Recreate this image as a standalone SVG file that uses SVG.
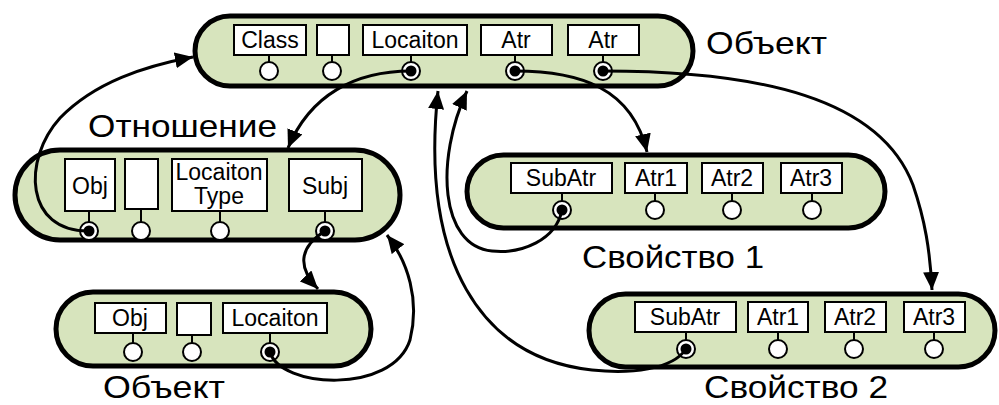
<svg xmlns="http://www.w3.org/2000/svg" width="999" height="405" viewBox="0 0 999 405">
<defs>
<style>
.pill{fill:#d7e4bd;stroke:#000;stroke-width:5}
.box{fill:#fff;stroke:#000;stroke-width:2}
.stem{stroke:#000;stroke-width:2}
.port{fill:#fff;stroke:#000;stroke-width:2}
.dot{fill:#000}
.bl{font-family:"Liberation Sans",Arial,sans-serif;font-size:23px;text-anchor:middle;fill:#000}
.big{font-family:"Liberation Sans",Arial,sans-serif;font-size:32px;fill:#000}
.conn{fill:none;stroke:#000;stroke-width:3}
</style>
<marker id="ah" markerUnits="userSpaceOnUse" markerWidth="20" markerHeight="16" refX="18" refY="8" orient="auto">
<path d="M0,0 L18,8 L0,16 Z" fill="#000"/>
</marker>
</defs>

<g id="obj-top">
<rect class="pill" x="195" y="16" width="498" height="70" rx="35"/>
<rect class="box" x="234" y="25" width="72" height="30"/>
<rect class="box" x="317" y="25" width="32" height="30"/>
<rect class="box" x="363" y="25" width="104" height="30"/>
<rect class="box" x="481" y="25" width="71" height="30"/>
<rect class="box" x="568" y="25" width="71" height="30"/>
<text class="bl" x="270" y="48">Class</text>
<text class="bl" x="415" y="48">Locaiton</text>
<text class="bl" x="516" y="48">Atr</text>
<text class="bl" x="603" y="48">Atr</text>
<line class="stem" x1="269" y1="55" x2="269" y2="62"/>
<line class="stem" x1="332" y1="55" x2="332" y2="62"/>
<line class="stem" x1="411" y1="55" x2="411" y2="62"/>
<line class="stem" x1="515" y1="55" x2="515" y2="62"/>
<line class="stem" x1="603" y1="55" x2="603" y2="62"/>
<circle class="port" cx="269" cy="71" r="9"/>
<circle class="port" cx="332" cy="71" r="9"/>
<circle class="port" cx="411" cy="71" r="9"/>
<circle class="dot" cx="411" cy="71" r="5.5"/>
<circle class="port" cx="515" cy="71" r="9"/>
<circle class="dot" cx="515" cy="71" r="5.5"/>
<circle class="port" cx="603" cy="71" r="9"/>
<circle class="dot" cx="603" cy="71" r="5.5"/>
<text class="big" x="706" y="54" textLength="121" lengthAdjust="spacingAndGlyphs">Объект</text>
</g>

<g id="relation">
<rect class="pill" x="15" y="150" width="385" height="90" rx="45"/>
<rect class="box" x="65" y="159" width="50" height="52"/>
<rect class="box" x="125" y="159" width="33" height="50"/>
<rect class="box" x="172" y="159" width="95" height="52"/>
<rect class="box" x="289" y="159" width="73" height="52"/>
<text class="bl" x="90" y="194">Obj</text>
<text class="bl" x="219" y="180">Locaiton</text>
<text class="bl" x="219" y="204">Type</text>
<text class="bl" x="325" y="194">Subj</text>
<line class="stem" x1="89" y1="211" x2="89" y2="222"/>
<line class="stem" x1="141" y1="209" x2="141" y2="222"/>
<line class="stem" x1="220" y1="211" x2="220" y2="222"/>
<line class="stem" x1="325" y1="211" x2="325" y2="222"/>
<circle class="port" cx="89" cy="231" r="9"/>
<circle class="dot" cx="89" cy="231" r="5.5"/>
<circle class="port" cx="141" cy="231" r="9"/>
<circle class="port" cx="220" cy="231" r="9"/>
<circle class="port" cx="325" cy="231" r="9"/>
<circle class="dot" cx="325" cy="231" r="5.5"/>
<text class="big" x="88" y="137" textLength="189" lengthAdjust="spacingAndGlyphs">Отношение</text>
</g>

<g id="obj-bottom">
<rect class="pill" x="56" y="292" width="315" height="74" rx="37"/>
<rect class="box" x="95" y="303" width="71" height="30"/>
<rect class="box" x="177" y="303" width="34" height="32"/>
<rect class="box" x="223" y="303" width="104" height="30"/>
<text class="bl" x="130" y="326">Obj</text>
<text class="bl" x="275" y="326">Locaiton</text>
<line class="stem" x1="133" y1="333" x2="133" y2="343"/>
<line class="stem" x1="192" y1="335" x2="192" y2="343"/>
<line class="stem" x1="270" y1="333" x2="270" y2="343"/>
<circle class="port" cx="133" cy="352" r="9"/>
<circle class="port" cx="192" cy="352" r="9"/>
<circle class="port" cx="270" cy="352" r="9"/>
<circle class="dot" cx="270" cy="352" r="5.5"/>
<text class="big" x="103" y="398" textLength="122" lengthAdjust="spacingAndGlyphs">Объект</text>
</g>

<g id="prop1">
<rect class="pill" x="467" y="155" width="418" height="73" rx="36.5"/>
<rect class="box" x="511" y="163" width="101" height="30"/>
<rect class="box" x="625" y="163" width="62" height="30"/>
<rect class="box" x="702" y="163" width="61" height="30"/>
<rect class="box" x="781" y="163" width="61" height="30"/>
<text class="bl" x="561" y="186">SubAtr</text>
<text class="bl" x="656" y="186">Atr1</text>
<text class="bl" x="732" y="186">Atr2</text>
<text class="bl" x="811" y="186">Atr3</text>
<line class="stem" x1="562" y1="193" x2="562" y2="201"/>
<line class="stem" x1="655" y1="193" x2="655" y2="201"/>
<line class="stem" x1="732" y1="193" x2="732" y2="201"/>
<line class="stem" x1="812" y1="193" x2="812" y2="201"/>
<circle class="port" cx="562" cy="210" r="9"/>
<circle class="dot" cx="562" cy="210" r="5.5"/>
<circle class="port" cx="655" cy="210" r="9"/>
<circle class="port" cx="732" cy="210" r="9"/>
<circle class="port" cx="812" cy="210" r="9"/>
<text class="big" x="582" y="268" textLength="182" lengthAdjust="spacingAndGlyphs">Свойство 1</text>
</g>

<g id="prop2">
<rect class="pill" x="589" y="294" width="406" height="73" rx="36.5"/>
<rect class="box" x="635" y="302" width="101" height="30"/>
<rect class="box" x="748" y="302" width="60" height="30"/>
<rect class="box" x="825" y="302" width="61" height="30"/>
<rect class="box" x="904" y="302" width="61" height="30"/>
<text class="bl" x="685" y="325">SubAtr</text>
<text class="bl" x="778" y="325">Atr1</text>
<text class="bl" x="855" y="325">Atr2</text>
<text class="bl" x="934" y="325">Atr3</text>
<line class="stem" x1="686" y1="332" x2="686" y2="340"/>
<line class="stem" x1="778" y1="332" x2="778" y2="340"/>
<line class="stem" x1="854" y1="332" x2="854" y2="340"/>
<line class="stem" x1="934" y1="332" x2="934" y2="340"/>
<circle class="port" cx="686" cy="349" r="9"/>
<circle class="dot" cx="686" cy="349" r="5.5"/>
<circle class="port" cx="778" cy="349" r="9"/>
<circle class="port" cx="854" cy="349" r="9"/>
<circle class="port" cx="934" cy="349" r="9"/>
<text class="big" x="704" y="398" textLength="184" lengthAdjust="spacingAndGlyphs">Свойство 2</text>
</g>

<g id="connectors">
<path class="conn" marker-end="url(#ah)" d="M89 231 C25 232,22 160,60 118 C95 82,145 66,193 57"/>
<path class="conn" marker-end="url(#ah)" d="M411 71 C355 71,310 95,288 148"/>
<path class="conn" marker-end="url(#ah)" d="M562 210 C556 240,522 254,492 251 C440 246,435 160,467 91"/>
<path class="conn" marker-end="url(#ah)" d="M686 349 C672 370,630 374,592 370 C480 358,420 260,438 91"/>
<path class="conn" marker-end="url(#ah)" d="M515 71 C580 71,632 88,647 152"/>
<path class="conn" marker-end="url(#ah)" d="M603 71 C760 71,880 98,913 185 C925 220,930 250,932 290"/>
<path class="conn" marker-end="url(#ah)" d="M325 231 C298 248,298 268,318 289"/>
<path class="conn" marker-end="url(#ah)" d="M270 352 C280 388,392 395,410 340 C420 300,408 262,387 235"/>
</g>
</svg>
